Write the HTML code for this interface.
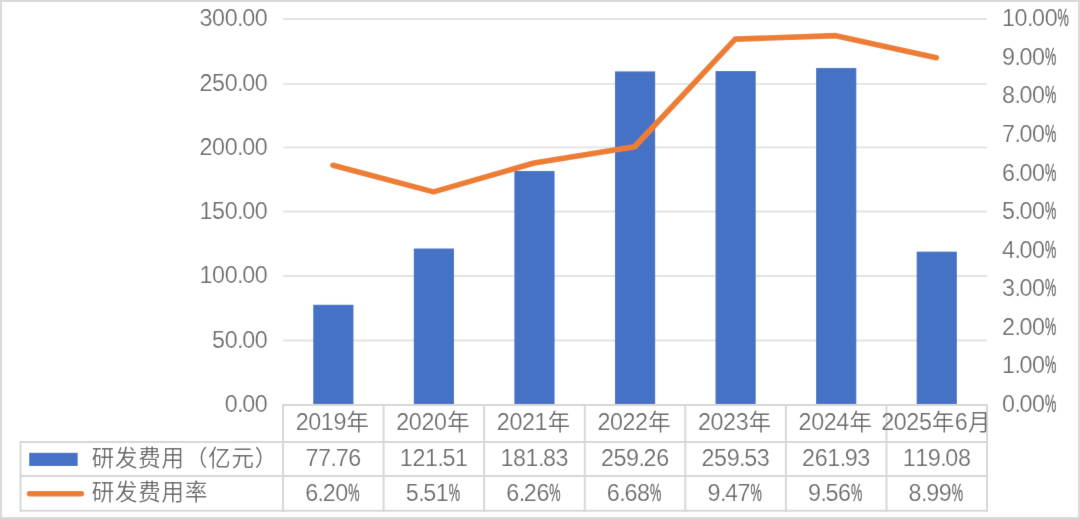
<!DOCTYPE html>
<html lang="zh-CN"><head><meta charset="utf-8"><title>研发费用</title>
<style>
html,body{margin:0;padding:0;background:#fff;}
body{width:1080px;height:519px;overflow:hidden;position:relative;}
svg{display:block;position:absolute;left:0;top:0;}
.n{font-family:"Liberation Sans",sans-serif;font-size:23.3px;fill:#666666;stroke:#fff;stroke-width:0.2px;paint-order:fill stroke;}
.p{stroke:#666666;stroke-width:0.35px;}
.c{font-family:"Liberation Sans","Noto Sans CJK SC",sans-serif;font-size:22.4px;letter-spacing:0.90px;font-weight:350;fill:#666666;}
</style></head><body>
<svg width="1080" height="519" viewBox="0 0 1080 519">
<rect x="0" y="0" width="1080" height="519" fill="#ffffff"/>
<defs><filter id="soft" x="-20" y="-20" width="1120" height="559" filterUnits="userSpaceOnUse"><feConvolveMatrix order="3" kernelMatrix="0.00490 0.06020 0.00490 0.06020 0.73960 0.06020 0.00490 0.06020 0.00490" divisor="1" edgeMode="duplicate" preserveAlpha="true"/></filter></defs>
<g filter="url(#soft)">
<rect x="-20" y="-20" width="1120" height="559" fill="#ffffff"/>
<rect x="-4" y="-4" width="1088" height="527" fill="none" stroke="#d9d9d9" stroke-width="12"/>
<line x1="283.05" x2="987.05" y1="19.05" y2="19.05" stroke="#e3e3e3" stroke-width="1.9"/>
<line x1="283.05" x2="987.05" y1="83.85" y2="83.85" stroke="#e3e3e3" stroke-width="1.9"/>
<line x1="283.05" x2="987.05" y1="147.40" y2="147.40" stroke="#e3e3e3" stroke-width="1.9"/>
<line x1="283.05" x2="987.05" y1="211.50" y2="211.50" stroke="#e3e3e3" stroke-width="1.9"/>
<line x1="283.05" x2="987.05" y1="275.95" y2="275.95" stroke="#e3e3e3" stroke-width="1.9"/>
<line x1="283.05" x2="987.05" y1="340.45" y2="340.45" stroke="#e3e3e3" stroke-width="1.9"/>
<rect x="313.22" y="304.76" width="40.23" height="99.39" fill="#4472c4"/>
<rect x="413.79" y="248.51" width="40.23" height="155.64" fill="#4472c4"/>
<rect x="514.36" y="170.95" width="40.23" height="233.20" fill="#4472c4"/>
<rect x="614.94" y="71.38" width="40.23" height="332.77" fill="#4472c4"/>
<rect x="715.51" y="71.04" width="40.23" height="333.11" fill="#4472c4"/>
<rect x="816.08" y="67.95" width="40.23" height="336.20" fill="#4472c4"/>
<rect x="916.65" y="251.63" width="40.23" height="152.52" fill="#4472c4"/>
<g stroke="#d7d7d7" stroke-width="2" fill="none">
<line x1="283.05" x2="987.05" y1="404.95" y2="404.95"/>
<line x1="20.5" x2="987.05" y1="441.9" y2="441.9"/>
<line x1="20.5" x2="987.05" y1="476.0" y2="476.0"/>
<line x1="20.5" x2="987.05" y1="510.8" y2="510.8"/>
<line x1="283.05" x2="283.05" y1="403.95" y2="511.8"/>
<line x1="383.62" x2="383.62" y1="403.95" y2="511.8"/>
<line x1="484.19" x2="484.19" y1="403.95" y2="511.8"/>
<line x1="584.76" x2="584.76" y1="403.95" y2="511.8"/>
<line x1="685.34" x2="685.34" y1="403.95" y2="511.8"/>
<line x1="785.91" x2="785.91" y1="403.95" y2="511.8"/>
<line x1="886.48" x2="886.48" y1="403.95" y2="511.8"/>
<line x1="987.05" x2="987.05" y1="403.95" y2="511.8"/>
<line x1="20.5" x2="20.5" y1="440.9" y2="511.8"/>
</g>
<polyline points="332.94,165.28 433.51,191.90 534.08,162.97 634.65,146.77 735.22,39.14 835.79,35.67 936.36,57.66" fill="none" stroke="#ed7d31" stroke-width="5.6" stroke-linecap="round" stroke-linejoin="round"/>
<rect x="29.2" y="452.8" width="48.5" height="13.2" fill="#4472c4"/>
<line x1="29.5" x2="81.5" y1="493.7" y2="493.7" stroke="#ed7d31" stroke-width="5.4" stroke-linecap="round"/>
<text><tspan class="n" y="26.30" x="199.55 212.10 224.65 237.10 242.20 254.75">300.00</tspan></text>
<text><tspan class="n" y="90.59" x="199.55 212.10 224.65 237.10 242.20 254.75">250.00</tspan></text>
<text><tspan class="n" y="154.88" x="199.55 212.10 224.65 237.10 242.20 254.75">200.00</tspan></text>
<text><tspan class="n" y="219.18" x="199.55 212.10 224.65 237.10 242.20 254.75">150.00</tspan></text>
<text><tspan class="n" y="283.47" x="199.55 212.10 224.65 237.10 242.20 254.75">100.00</tspan></text>
<text><tspan class="n" y="347.76" x="212.10 224.65 237.10 242.20 254.75">50.00</tspan></text>
<text><tspan class="n" y="412.05" x="224.65 237.10 242.20 254.75">0.00</tspan></text>
<text><tspan class="n" y="26.30" x="1002.00 1014.55 1027.00 1032.10 1044.65">10.00</tspan><tspan class="n p" x="1057.60" y="26.30" textLength="11.30" lengthAdjust="spacingAndGlyphs">%</tspan></text>
<text><tspan class="n" y="64.88" x="1002.00 1014.45 1019.55 1032.10">9.00</tspan><tspan class="n p" x="1045.05" y="64.88" textLength="11.30" lengthAdjust="spacingAndGlyphs">%</tspan></text>
<text><tspan class="n" y="103.45" x="1002.00 1014.45 1019.55 1032.10">8.00</tspan><tspan class="n p" x="1045.05" y="103.45" textLength="11.30" lengthAdjust="spacingAndGlyphs">%</tspan></text>
<text><tspan class="n" y="142.03" x="1002.00 1014.45 1019.55 1032.10">7.00</tspan><tspan class="n p" x="1045.05" y="142.03" textLength="11.30" lengthAdjust="spacingAndGlyphs">%</tspan></text>
<text><tspan class="n" y="180.60" x="1002.00 1014.45 1019.55 1032.10">6.00</tspan><tspan class="n p" x="1045.05" y="180.60" textLength="11.30" lengthAdjust="spacingAndGlyphs">%</tspan></text>
<text><tspan class="n" y="219.18" x="1002.00 1014.45 1019.55 1032.10">5.00</tspan><tspan class="n p" x="1045.05" y="219.18" textLength="11.30" lengthAdjust="spacingAndGlyphs">%</tspan></text>
<text><tspan class="n" y="257.75" x="1002.00 1014.45 1019.55 1032.10">4.00</tspan><tspan class="n p" x="1045.05" y="257.75" textLength="11.30" lengthAdjust="spacingAndGlyphs">%</tspan></text>
<text><tspan class="n" y="296.32" x="1002.00 1014.45 1019.55 1032.10">3.00</tspan><tspan class="n p" x="1045.05" y="296.32" textLength="11.30" lengthAdjust="spacingAndGlyphs">%</tspan></text>
<text><tspan class="n" y="334.90" x="1002.00 1014.45 1019.55 1032.10">2.00</tspan><tspan class="n p" x="1045.05" y="334.90" textLength="11.30" lengthAdjust="spacingAndGlyphs">%</tspan></text>
<text><tspan class="n" y="373.48" x="1002.00 1014.45 1019.55 1032.10">1.00</tspan><tspan class="n p" x="1045.05" y="373.48" textLength="11.30" lengthAdjust="spacingAndGlyphs">%</tspan></text>
<text><tspan class="n" y="412.05" x="1002.00 1014.45 1019.55 1032.10">0.00</tspan><tspan class="n p" x="1045.05" y="412.05" textLength="11.30" lengthAdjust="spacingAndGlyphs">%</tspan></text>
<text><tspan class="n" y="430.00" x="295.73 308.28 320.83 333.38">2019</tspan><tspan class="c" x="346.59" y="430.20">年</tspan></text>
<text><tspan class="n" y="430.00" x="396.30 408.85 421.40 433.95">2020</tspan><tspan class="c" x="447.16" y="430.20">年</tspan></text>
<text><tspan class="n" y="430.00" x="496.87 509.42 521.97 534.52">2021</tspan><tspan class="c" x="547.73" y="430.20">年</tspan></text>
<text><tspan class="n" y="430.00" x="597.45 610.00 622.55 635.10">2022</tspan><tspan class="c" x="648.30" y="430.20">年</tspan></text>
<text><tspan class="n" y="430.00" x="698.02 710.57 723.12 735.67">2023</tspan><tspan class="c" x="748.87" y="430.20">年</tspan></text>
<text><tspan class="n" y="430.00" x="798.59 811.14 823.69 836.24">2024</tspan><tspan class="c" x="849.44" y="430.20">年</tspan></text>
<text><tspan class="n" y="430.00" x="881.24 893.79 906.34 918.89">2025</tspan><tspan class="c" x="932.09" y="430.20">年</tspan><tspan class="n" y="430.00" x="954.74">6</tspan><tspan class="c" x="967.94" y="430.20">月</tspan></text>
<text><tspan class="n" y="466.30" x="305.53 318.08 330.54 335.63 348.18">77.76</tspan></text>
<text><tspan class="n" y="466.30" x="399.83 412.38 424.93 437.38 442.48 455.03">121.51</tspan></text>
<text><tspan class="n" y="466.30" x="500.40 512.95 525.50 537.95 543.05 555.60">181.83</tspan></text>
<text><tspan class="n" y="466.30" x="600.97 613.52 626.07 638.52 643.62 656.17">259.26</tspan></text>
<text><tspan class="n" y="466.30" x="701.54 714.09 726.64 739.10 744.19 756.74">259.53</tspan></text>
<text><tspan class="n" y="466.30" x="802.11 814.66 827.21 839.67 844.76 857.31">261.93</tspan></text>
<text><tspan class="n" y="466.30" x="902.69 915.24 927.79 940.24 945.34 957.89">119.08</tspan></text>
<text><tspan class="n" y="500.50" x="305.16 317.61 322.71 335.26">6.20</tspan><tspan class="n p" x="348.21" y="500.50" textLength="11.30" lengthAdjust="spacingAndGlyphs">%</tspan></text>
<text><tspan class="n" y="500.50" x="405.73 418.18 423.28 435.83">5.51</tspan><tspan class="n p" x="448.78" y="500.50" textLength="11.30" lengthAdjust="spacingAndGlyphs">%</tspan></text>
<text><tspan class="n" y="500.50" x="506.30 518.75 523.85 536.40">6.26</tspan><tspan class="n p" x="549.35" y="500.50" textLength="11.30" lengthAdjust="spacingAndGlyphs">%</tspan></text>
<text><tspan class="n" y="500.50" x="606.87 619.32 624.42 636.97">6.68</tspan><tspan class="n p" x="649.92" y="500.50" textLength="11.30" lengthAdjust="spacingAndGlyphs">%</tspan></text>
<text><tspan class="n" y="500.50" x="707.44 719.90 724.99 737.54">9.47</tspan><tspan class="n p" x="750.50" y="500.50" textLength="11.30" lengthAdjust="spacingAndGlyphs">%</tspan></text>
<text><tspan class="n" y="500.50" x="808.01 820.47 825.56 838.11">9.56</tspan><tspan class="n p" x="851.07" y="500.50" textLength="11.30" lengthAdjust="spacingAndGlyphs">%</tspan></text>
<text><tspan class="n" y="500.50" x="908.59 921.04 926.14 938.69">8.99</tspan><tspan class="n p" x="951.64" y="500.50" textLength="11.30" lengthAdjust="spacingAndGlyphs">%</tspan></text>
<text><tspan class="c" x="91.75" y="466.20">研发费用（亿元）</tspan></text>
<text><tspan class="c" x="91.75" y="500.10">研发费用率</tspan></text>
</g>
</svg>
</body></html>
